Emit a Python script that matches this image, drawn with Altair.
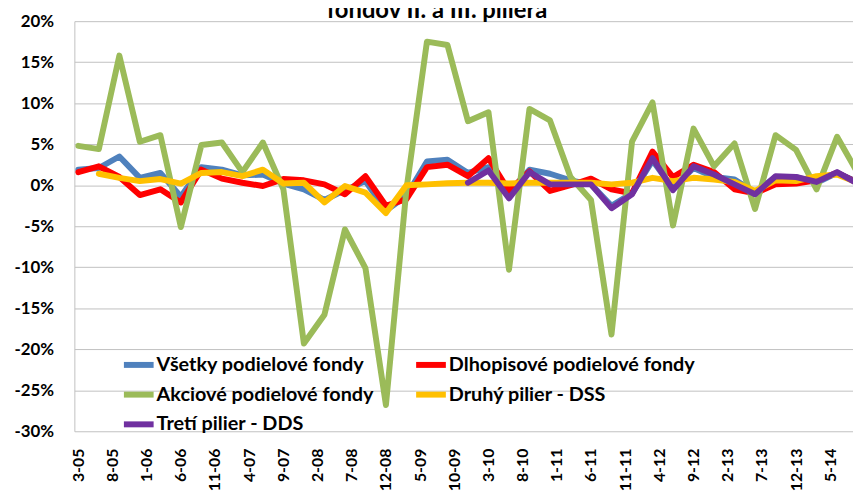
import altair as alt
import pandas as pd

# ---- data (monthly returns in %, quarterly observations) ----
periods = ["3-05", "6-05", "9-05", "12-05", "3-06", "6-06", "9-06", "12-06",
           "3-07", "6-07", "9-07", "12-07", "3-08", "6-08", "9-08", "12-08",
           "3-09", "6-09", "9-09", "12-09", "3-10", "6-10", "9-10", "12-10",
           "3-11", "6-11", "9-11", "12-11", "3-12", "6-12", "9-12", "12-12",
           "3-13", "6-13", "9-13", "12-13", "3-14", "6-14", "9-14"]

vsetky = [1.9, 2.1, 3.5, 0.9, 1.5, -1.4, 2.2, 1.9, 1.2, 1.3, 0.2, -0.5, -1.8,
          -0.6, 0.5, -3.1, -1.3, 2.9, 3.1, 1.5, 2.2, -0.9, 1.9, 1.4, 0.6, 0.1,
          -2.5, -1.0, 3.0, -0.4, 2.1, 1.0, 0.7, -0.9, 1.0, 1.0, 0.3, 1.5, 0.4]
dlhopisove = [1.6, 2.3, 1.0, -1.2, -0.5, -2.1, 1.9, 0.8, 0.3, -0.1, 0.75, 0.6,
              0.1, -1.1, 1.1, -2.5, -1.7, 2.2, 2.5, 1.1, 3.3, -0.7, 1.7, -0.7,
              0.0, 0.8, -0.5, -1.0, 4.1, 1.0, 2.5, 1.6, -0.5, -1.0, 0.1, 0.2,
              0.6, 1.5, 0.3]
akciove = [4.8, 4.4, 15.8, 5.3, 6.1, -5.1, 4.9, 5.2, 1.6, 5.2, -0.5, -19.3,
           -15.8, -5.4, -10.1, -26.8, -0.5, 17.5, 17.1, 7.8, 8.9, -10.3, 9.3,
           7.9, 1.0, -1.8, -18.2, 5.3, 10.1, -4.9, 6.9, 2.3, 5.1, -2.9, 6.1,
           4.3, -0.5, 5.9, 1.5]
dss = [None, 1.4, 0.9, 0.5, 0.75, 0.2, 1.5, 1.6, 1.1, 1.9, 0.2, 0.3, -2.1,
       -0.1, -0.9, -3.4, 0.0, 0.1, 0.25, 0.3, 0.3, 0.2, 0.3, 0.3, 0.3, 0.3,
       0.1, 0.3, 0.9, 0.5, 0.9, 0.7, 0.4, -0.7, 0.6, 0.5, 1.1, 1.3, 0.3]
dds = [None, None, None, None, None, None, None, None, None, None, None, None,
       None, None, None, None, None, None, None, 0.3, 1.8, -1.6, 1.6, 0.1, 0.1,
       0.1, -2.8, -1.1, 3.3, -0.6, 2.3, 1.3, 0.1, -1.1, 1.1, 1.0, 0.4, 1.6, 0.2]

# drawing order (later on top)
series_names = ["Všetky podielové fondy", "Dlhopisové podielové fondy",
                "Akciové podielové fondy", "Druhý pilier - DSS",
                "Tretí pilier - DDS"]
series_values = [vsetky, dlhopisove, akciove, dss, dds]
series_colors = ["#4F81BD", "#FF0000", "#9BBB59", "#FFC000", "#7030A0"]

# legend order (legend grid is filled column by column)
legend_order = ["Všetky podielové fondy", "Akciové podielové fondy",
                "Tretí pilier - DDS", "Dlhopisové podielové fondy",
                "Druhý pilier - DSS"]

tick_labels = ["3-05", "8-05", "1-06", "6-06", "11-06", "4-07", "9-07", "2-08",
               "7-08", "12-08", "5-09", "10-09", "3-10", "8-10", "1-11", "6-11",
               "11-11", "4-12", "9-12", "2-13", "7-13", "12-13", "5-14"]

title_line = "fondov II. a III. piliera"


def month_offset(label):
    m, y = label.split("-")
    return (int(y) - 5) * 12 + (int(m) - 3)


rows = []
for name, vals in zip(series_names, series_values):
    for p, v in zip(periods, vals):
        if v is not None:
            rows.append({"seria": name, "obdobie": p, "mes": month_offset(p), "hodnota": v})
df = pd.DataFrame(rows)

tick_vals = [month_offset(t) for t in tick_labels]
label_expr = "[" + ",".join("'%s'" % t for t in tick_labels) + "][round(datum.value/5)]"

FONT = "Lato"

color_map = dict(zip(series_names, series_colors))
color_scale = alt.Scale(domain=legend_order, range=[color_map[n] for n in legend_order])

base = alt.Chart(df).mark_line(strokeWidth=6, strokeJoin="round", strokeCap="round", clip=True).encode(
    x=alt.X("mes:Q",
            scale=alt.Scale(domain=[-0.58, 113.33], nice=False, zero=False),
            axis=alt.Axis(values=tick_vals, labelExpr=label_expr, title=None,
                          grid=False, domain=False, ticks=False, labelAngle=270,
                          labelAlign="right", labelBaseline="middle",
                          labelPadding=17, labelFontSize=16, labelFont=FONT,
                          labelFontWeight="bold", labelColor="#000000",
                          labelOverlap=False)),
    y=alt.Y("hodnota:Q",
            scale=alt.Scale(domain=[-30, 20], nice=False),
            axis=alt.Axis(values=list(range(-30, 25, 5)), labelExpr="datum.value + '%'",
                          title=None, grid=True, gridColor="#C0C0C0", gridWidth=1,
                          domain=True, domainColor="#C0C0C0", ticks=False,
                          labelPadding=21, labelFontSize=17, labelFont=FONT,
                          labelFontWeight="bold", labelColor="#000000")),
    color=alt.Color("seria:N", scale=color_scale, sort=legend_order,
                    legend=alt.Legend(title=None, orient="none", legendX=47, legendY=329,
                                      columns=2, columnPadding=30, rowPadding=0,
                                      symbolType="stroke", symbolSize=900,
                                      symbolStrokeWidth=6, labelOffset=0,
                                      labelFont=FONT, labelFontSize=20,
                                      labelFontWeight="bold", labelColor="#000000",
                                      labelLimit=400)),
)

layers = [base.transform_filter(alt.datum.seria == n) for n in series_names]

title_chart = alt.Chart(pd.DataFrame({"t": [title_line]})).mark_text(
    align="center", baseline="alphabetic", fontSize=24, fontWeight="bold",
    font=FONT, color="#000000").encode(
    x=alt.value(366), y=alt.value(-3), text="t:N")

chart = alt.layer(*layers, title_chart).properties(
    width=786, height=414,
    autosize=alt.AutoSizeParams(type="none"),
    padding={"left": 67, "top": 11, "right": 0, "bottom": 59},
).configure_view(stroke=None)

chart.save("out.html", embed_options={"renderer": "svg", "actions": False})
